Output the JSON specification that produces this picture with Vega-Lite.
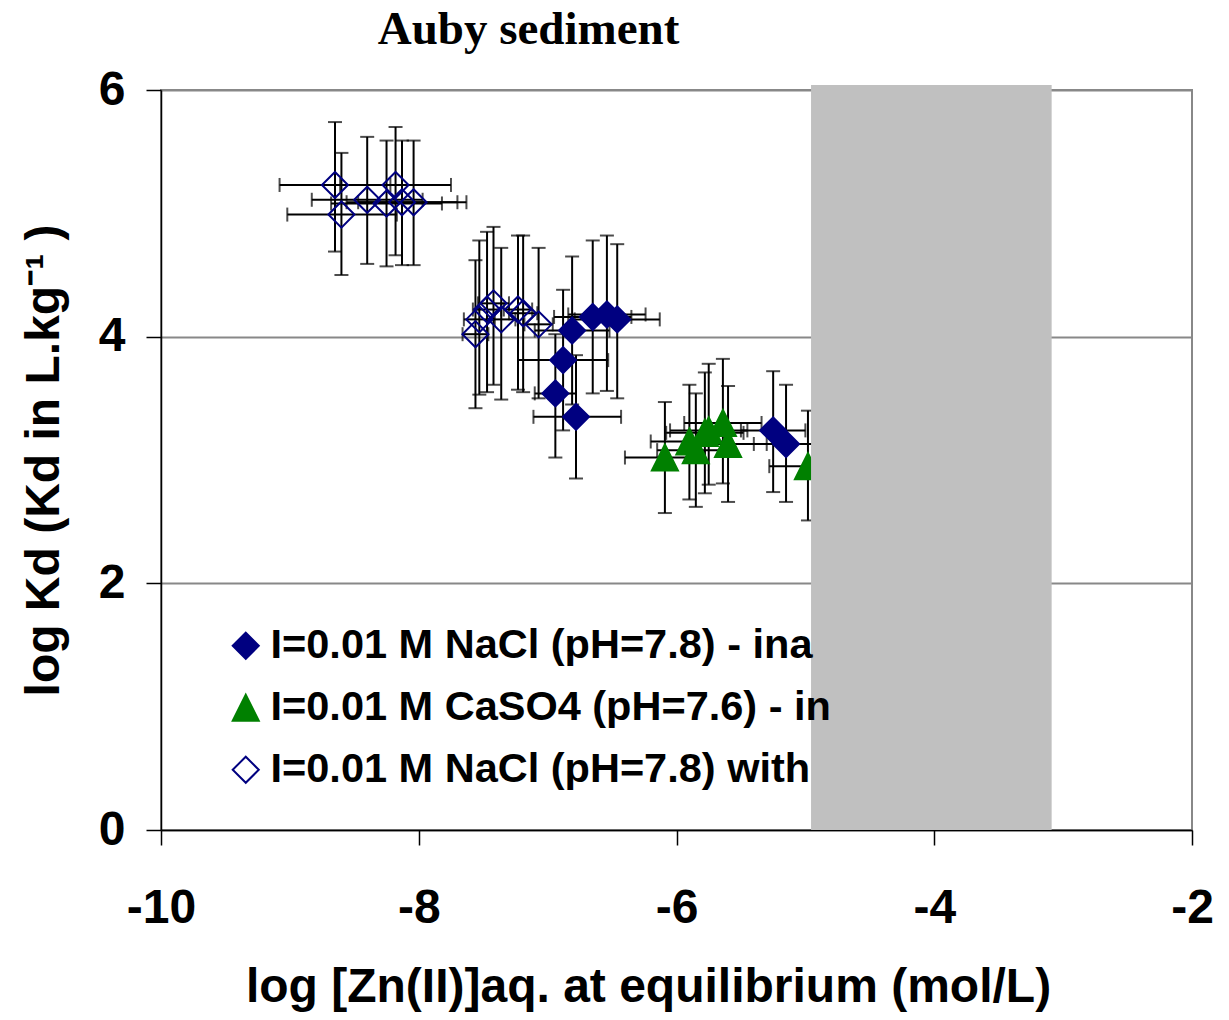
{
  "$schema": "https://vega.github.io/schema/vega-lite/v6.json",
  "width": 1031,
  "height": 740,
  "autosize": {"type": "none"},
  "padding": {"left": 161, "top": 90, "right": 37, "bottom": 190},
  "background": "white",
  "title": {
    "text": "Auby sediment",
    "font": "Liberation Serif",
    "fontSize": 47,
    "fontWeight": "bold",
    "color": "black",
    "anchor": "middle",
    "frame": "group",
    "dx": -148,
    "offset": 12
  },
  "config": {
    "view": {"stroke": "#888888", "strokeWidth": 2},
    "axis": {
      "labelFont": "Liberation Sans",
      "labelFontWeight": "bold",
      "labelFontSize": 48,
      "labelColor": "black",
      "labelExpr": "'' + datum.value",
      "titleFont": "Liberation Sans",
      "titleFontWeight": "bold",
      "titleFontSize": 48,
      "titleColor": "black",
      "tickColor": "black",
      "tickSize": 15,
      "tickWidth": 1.5,
      "domainColor": "black",
      "domainWidth": 1.5,
      "gridColor": "#888888",
      "gridWidth": 2
    },
    "legend": {
      "labelFont": "Liberation Sans",
      "labelFontWeight": "bold",
      "labelFontSize": 41.5,
      "labelColor": "black",
      "labelLimit": 1000
    }
  },
  "datasets": {
    "pts": [
      {"series": "I=0.01 M NaCl (pH=7.8) with", "x": -8.65, "y": 5.23, "ylo": 4.69, "yhi": 5.74, "xlo": -9.08, "xhi": -8.22},
      {"series": "I=0.01 M NaCl (pH=7.8) with", "x": -8.60, "y": 4.99, "ylo": 4.50, "yhi": 5.49, "xlo": -9.02, "xhi": -8.17},
      {"series": "I=0.01 M NaCl (pH=7.8) with", "x": -8.40, "y": 5.11, "ylo": 4.59, "yhi": 5.62, "xlo": -8.83, "xhi": -7.97},
      {"series": "I=0.01 M NaCl (pH=7.8) with", "x": -8.25, "y": 5.08, "ylo": 4.57, "yhi": 5.59, "xlo": -8.68, "xhi": -7.82},
      {"series": "I=0.01 M NaCl (pH=7.8) with", "x": -8.18, "y": 5.23, "ylo": 4.66, "yhi": 5.70, "xlo": -8.61, "xhi": -7.75},
      {"series": "I=0.01 M NaCl (pH=7.8) with", "x": -8.13, "y": 5.09, "ylo": 4.58, "yhi": 5.59, "xlo": -8.56, "xhi": -7.70},
      {"series": "I=0.01 M NaCl (pH=7.8) with", "x": -8.04, "y": 5.09, "ylo": 4.58, "yhi": 5.59, "xlo": -8.47, "xhi": -7.63},
      {"series": "I=0.01 M NaCl (pH=7.8) with", "x": -7.56, "y": 4.02, "ylo": 3.42, "yhi": 4.62, "xlo": -7.66, "xhi": -7.46},
      {"series": "I=0.01 M NaCl (pH=7.8) with", "x": -7.53, "y": 4.14, "ylo": 3.53, "yhi": 4.78, "xlo": -7.65, "xhi": -7.41},
      {"series": "I=0.01 M NaCl (pH=7.8) with", "x": -7.47, "y": 4.22, "ylo": 3.55, "yhi": 4.85, "xlo": -7.58, "xhi": -7.36},
      {"series": "I=0.01 M NaCl (pH=7.8) with", "x": -7.42, "y": 4.27, "ylo": 3.61, "yhi": 4.89, "xlo": -7.54, "xhi": -7.30},
      {"series": "I=0.01 M NaCl (pH=7.8) with", "x": -7.36, "y": 4.14, "ylo": 3.49, "yhi": 4.72, "xlo": -7.47, "xhi": -7.25},
      {"series": "I=0.01 M NaCl (pH=7.8) with", "x": -7.23, "y": 4.22, "ylo": 3.57, "yhi": 4.82, "xlo": -7.34, "xhi": -7.12},
      {"series": "I=0.01 M NaCl (pH=7.8) with", "x": -7.19, "y": 4.19, "ylo": 3.55, "yhi": 4.82, "xlo": -7.30, "xhi": -7.08},
      {"series": "I=0.01 M NaCl (pH=7.8) with", "x": -7.07, "y": 4.10, "ylo": 3.50, "yhi": 4.72, "xlo": -7.18, "xhi": -6.96},
      {"series": "I=0.01 M NaCl (pH=7.8) - ina", "x": -6.81, "y": 4.05, "ylo": 3.45, "yhi": 4.65, "xlo": -7.10, "xhi": -6.52},
      {"series": "I=0.01 M NaCl (pH=7.8) - ina", "x": -6.65, "y": 4.16, "ylo": 3.54, "yhi": 4.78, "xlo": -6.95, "xhi": -6.35},
      {"series": "I=0.01 M NaCl (pH=7.8) - ina", "x": -6.54, "y": 4.18, "ylo": 3.56, "yhi": 4.82, "xlo": -6.84, "xhi": -6.24},
      {"series": "I=0.01 M NaCl (pH=7.8) - ina", "x": -6.46, "y": 4.14, "ylo": 3.50, "yhi": 4.75, "xlo": -6.79, "xhi": -6.13},
      {"series": "I=0.01 M NaCl (pH=7.8) - ina", "x": -6.88, "y": 3.81, "ylo": 3.24, "yhi": 4.38, "xlo": -7.23, "xhi": -6.53},
      {"series": "I=0.01 M NaCl (pH=7.8) - ina", "x": -6.94, "y": 3.54, "ylo": 3.02, "yhi": 4.02, "xlo": -7.10, "xhi": -6.78},
      {"series": "I=0.01 M NaCl (pH=7.8) - ina", "x": -6.78, "y": 3.35, "ylo": 2.85, "yhi": 3.85, "xlo": -7.11, "xhi": -6.43},
      {"series": "I=0.01 M NaCl (pH=7.8) - ina", "x": -5.25, "y": 3.24, "ylo": 2.74, "yhi": 3.72, "xlo": -5.50, "xhi": -5.00},
      {"series": "I=0.01 M NaCl (pH=7.8) - ina", "x": -5.15, "y": 3.13, "ylo": 2.66, "yhi": 3.61, "xlo": -5.40, "xhi": -4.90},
      {"series": "I=0.01 M CaSO4 (pH=7.6) - in", "x": -6.09, "y": 3.02, "ylo": 2.57, "yhi": 3.47, "xlo": -6.40, "xhi": -5.78},
      {"series": "I=0.01 M CaSO4 (pH=7.6) - in", "x": -5.90, "y": 3.15, "ylo": 2.68, "yhi": 3.61, "xlo": -6.20, "xhi": -5.60},
      {"series": "I=0.01 M CaSO4 (pH=7.6) - in", "x": -5.85, "y": 3.08, "ylo": 2.62, "yhi": 3.54, "xlo": -6.15, "xhi": -5.55},
      {"series": "I=0.01 M CaSO4 (pH=7.6) - in", "x": -5.78, "y": 3.22, "ylo": 2.73, "yhi": 3.71, "xlo": -6.08, "xhi": -5.48},
      {"series": "I=0.01 M CaSO4 (pH=7.6) - in", "x": -5.75, "y": 3.24, "ylo": 2.80, "yhi": 3.78, "xlo": -6.05, "xhi": -5.45},
      {"series": "I=0.01 M CaSO4 (pH=7.6) - in", "x": -5.64, "y": 3.30, "ylo": 2.81, "yhi": 3.82, "xlo": -5.94, "xhi": -5.34},
      {"series": "I=0.01 M CaSO4 (pH=7.6) - in", "x": -5.60, "y": 3.13, "ylo": 2.66, "yhi": 3.60, "xlo": -5.90, "xhi": -5.30},
      {"series": "I=0.01 M CaSO4 (pH=7.6) - in", "x": -4.98, "y": 2.95, "ylo": 2.51, "yhi": 3.40, "xlo": -5.28, "xhi": -4.68}
    ],
    "band": [
      {"x1": -4.956, "x2": -3.089, "y1": 0, "y2": 6.04}
    ]
  },
  "layer": [
    {
      "data": {"name": "pts"},
      "mark": {"type": "rule", "color": "black", "strokeWidth": 2},
      "encoding": {
        "x": {"field": "x", "type": "quantitative", "scale": {"domain": [-10, -2], "nice": false, "zero": false},
          "axis": {"values": [-10, -8, -6, -4, -2], "grid": false, "labelPadding": 39, "labelFlush": false,
            "title": "log [Zn(II)]aq. at equilibrium (mol/L)", "titlePadding": 31, "titleX": 487}},
        "y": {"field": "ylo", "type": "quantitative", "scale": {"domain": [0, 6], "nice": false, "zero": false},
          "axis": {"values": [0, 2, 4, 6], "grid": true, "labelPadding": 21, "labelFlush": false,
            "title": "log Kd (Kd in L.kg⁻¹ )", "titlePadding": 30}},
        "y2": {"field": "yhi"}
      }
    },
    {
      "data": {"name": "pts"},
      "mark": {"type": "rule", "color": "black", "strokeWidth": 2},
      "encoding": {
        "x": {"field": "xlo", "type": "quantitative"},
        "x2": {"field": "xhi"},
        "y": {"field": "y", "type": "quantitative"}
      }
    },
    {
      "data": {"name": "pts"},
      "mark": {"type": "tick", "orient": "horizontal", "color": "black", "size": 14, "thickness": 2},
      "encoding": {
        "x": {"field": "x", "type": "quantitative"},
        "y": {"field": "ylo", "type": "quantitative"}
      }
    },
    {
      "data": {"name": "pts"},
      "mark": {"type": "tick", "orient": "horizontal", "color": "black", "size": 14, "thickness": 2},
      "encoding": {
        "x": {"field": "x", "type": "quantitative"},
        "y": {"field": "yhi", "type": "quantitative"}
      }
    },
    {
      "data": {"name": "pts"},
      "mark": {"type": "tick", "orient": "vertical", "color": "black", "size": 14, "thickness": 2},
      "encoding": {
        "x": {"field": "xlo", "type": "quantitative"},
        "y": {"field": "y", "type": "quantitative"}
      }
    },
    {
      "data": {"name": "pts"},
      "mark": {"type": "tick", "orient": "vertical", "color": "black", "size": 14, "thickness": 2},
      "encoding": {
        "x": {"field": "xhi", "type": "quantitative"},
        "y": {"field": "y", "type": "quantitative"}
      }
    },
    {
      "data": {"name": "pts"},
      "mark": {"type": "point", "filled": true, "size": 680, "strokeWidth": 2, "opacity": 1},
      "encoding": {
        "x": {"field": "x", "type": "quantitative"},
        "y": {"field": "y", "type": "quantitative"},
        "shape": {"field": "series", "type": "nominal",
          "scale": {"domain": ["I=0.01 M NaCl (pH=7.8) - ina", "I=0.01 M CaSO4 (pH=7.6) - in", "I=0.01 M NaCl (pH=7.8) with"],
                    "range": ["diamond", "M0,-1L1,1L-1,1Z", "diamond"]},
          "legend": {"title": null, "orient": "none", "legendX": 64, "legendY": 535, "padding": 0,
                     "labelOffset": 4, "rowPadding": 19, "symbolStrokeWidth": 2, "symbolSize": 680}},
        "fill": {"field": "series", "type": "nominal",
          "scale": {"domain": ["I=0.01 M NaCl (pH=7.8) - ina", "I=0.01 M CaSO4 (pH=7.6) - in", "I=0.01 M NaCl (pH=7.8) with"],
                    "range": ["#000080", "#008000", "transparent"]}},
        "stroke": {"field": "series", "type": "nominal",
          "scale": {"domain": ["I=0.01 M NaCl (pH=7.8) - ina", "I=0.01 M CaSO4 (pH=7.6) - in", "I=0.01 M NaCl (pH=7.8) with"],
                    "range": ["#000080", "#008000", "#000080"]}}
      }
    },
    {
      "data": {"name": "band"},
      "mark": {"type": "rect", "color": "#c0c0c0", "opacity": 1, "clip": false},
      "encoding": {
        "x": {"field": "x1", "type": "quantitative"},
        "x2": {"field": "x2"},
        "y": {"field": "y1", "type": "quantitative"},
        "y2": {"field": "y2"}
      }
    }
  ]
}
